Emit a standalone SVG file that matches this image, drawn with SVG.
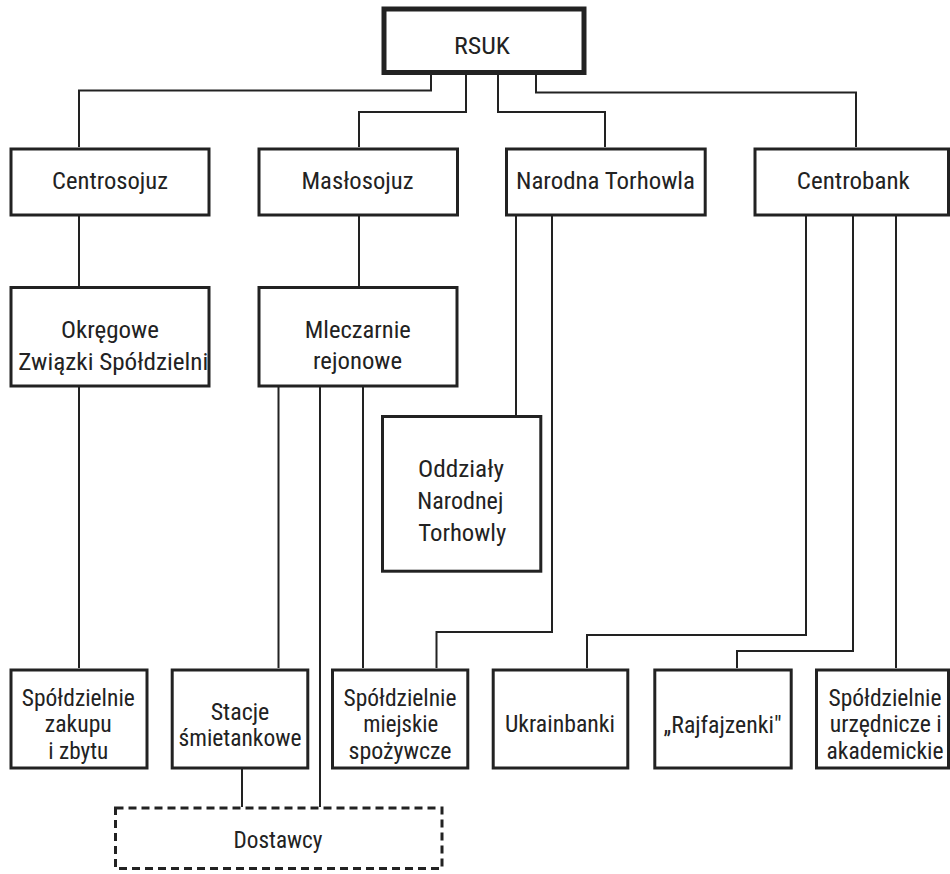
<svg xmlns="http://www.w3.org/2000/svg" width="950" height="874" viewBox="0 0 950 874">
<style>
.box{fill:#fff;stroke:#222;stroke-width:3}
.main{fill:#fff;stroke:#222;stroke-width:5}
.dash{fill:#fff;stroke:#222;stroke-width:3;stroke-dasharray:8 5}
.c{fill:none;stroke:#222;stroke-width:2}
text{font-family:"Roboto Condensed",Roboto,"Liberation Sans",sans-serif;font-size:24px;fill:#222;text-anchor:middle}
</style>
<rect width="950" height="874" fill="#fff"/>
<g id="connectors">
<path class="c" d="M431 75V90.5H79V147"/>
<path class="c" d="M466 75V112H359V147"/>
<path class="c" d="M498 75V112H605V147"/>
<path class="c" d="M536 75V92.5H856V147"/>
<path class="c" d="M79 216V286"/>
<path class="c" d="M79 387V668"/>
<path class="c" d="M359 216V286"/>
<path class="c" d="M278.5 387V668"/>
<path class="c" d="M320 387V807"/>
<path class="c" d="M363 387V668"/>
<path class="c" d="M516 216V415"/>
<path class="c" d="M552 216V632H436.5V668"/>
<path class="c" d="M806 216V635H587V668"/>
<path class="c" d="M853 216V651H737V668"/>
<path class="c" d="M896 216V668"/>
<path class="c" d="M242 769V807"/>
</g>
<g id="rsuk"><rect class="main" x="384" y="9" width="200" height="63.5"/><text x="482" y="54.3" textLength="56" lengthAdjust="spacingAndGlyphs">RSUK</text></g>
<g id="centrosojuz"><rect class="box" x="11" y="149" width="198" height="66"/><text x="110" y="189.3" textLength="116" lengthAdjust="spacingAndGlyphs">Centrosojuz</text></g>
<g id="maslosojuz"><rect class="box" x="259" y="149" width="198.5" height="66"/><text x="357.5" y="189.3" textLength="112" lengthAdjust="spacingAndGlyphs">Masłosojuz</text></g>
<g id="narodna"><rect class="box" x="506.5" y="149" width="198.7" height="66"/><text x="605.5" y="189.3" textLength="179" lengthAdjust="spacingAndGlyphs">Narodna Torhowla</text></g>
<g id="centrobank"><rect class="box" x="755" y="149" width="193.5" height="66"/><text x="853.3" y="189.3" textLength="113" lengthAdjust="spacingAndGlyphs">Centrobank</text></g>
<g id="okregowe"><rect class="box" x="11" y="287.5" width="198" height="98.5"/><text x="110" y="338.3" textLength="98" lengthAdjust="spacingAndGlyphs">Okręgowe</text><text x="113.3" y="369.5" textLength="190" lengthAdjust="spacingAndGlyphs">Związki Spółdzielni</text></g>
<g id="mleczarnie"><rect class="box" x="259" y="287.5" width="198" height="98.5"/><text x="357.8" y="338.3" textLength="106" lengthAdjust="spacingAndGlyphs">Mleczarnie</text><text x="357.5" y="369.3" textLength="89" lengthAdjust="spacingAndGlyphs">rejonowe</text></g>
<g id="oddzialy"><rect class="box" x="382.5" y="416.5" width="158.3" height="154.7"/><text x="461" y="476.7" textLength="86" lengthAdjust="spacingAndGlyphs">Oddziały</text><text x="460.3" y="509.3" textLength="86" lengthAdjust="spacingAndGlyphs">Narodnej</text><text x="462.3" y="540.7" textLength="88" lengthAdjust="spacingAndGlyphs">Torhowly</text></g>
<g id="zakupu"><rect class="box" x="11" y="670" width="136" height="98"/><text x="78.3" y="705.5" textLength="113" lengthAdjust="spacingAndGlyphs">Spółdzielnie</text><text x="78.3" y="732" textLength="67" lengthAdjust="spacingAndGlyphs">zakupu</text><text x="78.3" y="759" textLength="60" lengthAdjust="spacingAndGlyphs">i zbytu</text></g>
<g id="stacje"><rect class="box" x="172.2" y="670" width="135.6" height="98"/><text x="240" y="720" textLength="58.6" lengthAdjust="spacingAndGlyphs">Stacje</text><text x="240" y="745.5" textLength="123" lengthAdjust="spacingAndGlyphs">śmietankowe</text></g>
<g id="miejskie"><rect class="box" x="332.5" y="670" width="135.3" height="98"/><text x="400" y="705.5" textLength="113" lengthAdjust="spacingAndGlyphs">Spółdzielnie</text><text x="400.8" y="732" textLength="75" lengthAdjust="spacingAndGlyphs">miejskie</text><text x="400" y="759" textLength="103" lengthAdjust="spacingAndGlyphs">spożywcze</text></g>
<g id="ukrainbanki"><rect class="box" x="493.2" y="670" width="134.6" height="98"/><text x="560" y="731.7" textLength="110" lengthAdjust="spacingAndGlyphs">Ukrainbanki</text></g>
<g id="rajfajzenki"><rect class="box" x="654.8" y="670" width="136.4" height="98"/><text x="722.5" y="732.7" textLength="118" lengthAdjust="spacingAndGlyphs">„Rajfajzenki"</text></g>
<g id="urzednicze"><rect class="box" x="816.5" y="670" width="132" height="98"/><text x="885" y="705.5" textLength="113" lengthAdjust="spacingAndGlyphs">Spółdzielnie</text><text x="885.8" y="732" textLength="112" lengthAdjust="spacingAndGlyphs">urzędnicze i</text><text x="885" y="759" textLength="117" lengthAdjust="spacingAndGlyphs">akademickie</text></g>
<g id="dostawcy"><rect class="dash" x="115.5" y="808" width="326.5" height="60.5"/><text x="278" y="848.3" textLength="89" lengthAdjust="spacingAndGlyphs">Dostawcy</text></g>
</svg>
